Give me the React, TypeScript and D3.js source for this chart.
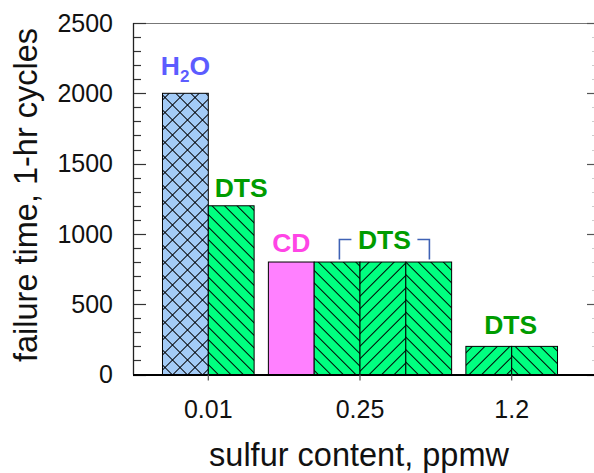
import { useRef, useEffect } from 'react';
import * as d3 from 'd3';

// categories on the x axis (sulfur content, ppmw)
const categories = ['0.01', '0.25', '1.2'];

// every bar: which category it belongs to and its failure time
const barCategories = ['0.01', '0.01', '0.25', '0.25', '0.25', '0.25', '1.2', '1.2'];
const barValues = [2000, 1200, 800, 800, 800, 800, 200, 200];

// y axis ticks
const yMajorTicks = [0, 500, 1000, 1500, 2000, 2500];

// annotation labels and which bars they sit over
const labelTexts = ['H2O', 'DTS', 'CD', 'DTS', 'DTS'];
const labelBars = [[0], [1], [2], [3, 4, 5], [6, 7]];

// ---- styles ----
const barStyles = ['cross', 'back', 'pink', 'back', 'fwd', 'back', 'fwd', 'back'];
const labelColors = ['#5c5cff', '#009c00', '#ff45e6', '#009c00', '#009c00'];
const labelDx = [0, 10, 0, 1.5, -1];
const labelGap = [18, 9, 10, 12.7, 12];
const FONT = '"Liberation Sans", Arial, Helvetica, sans-serif';

export default function App() {
  const svgRef = useRef<SVGSVGElement | null>(null);

  useEffect(() => {
    const width = 594, height = 473;
    const left = 133, right = 600, top = 23, bottom = 374.5;

    d3.select(svgRef.current).selectAll('*').remove();
    const svg = d3.select(svgRef.current)
      .attr('width', width)
      .attr('height', height);

    // patterns
    const defs = svg.append('defs');
    const hatch = (id: string, angle: number, spacing: number, bg: string, cross = false) => {
      const d = spacing / Math.SQRT2;
      const p = defs.append('pattern')
        .attr('id', id)
        .attr('patternUnits', 'userSpaceOnUse')
        .attr('width', d)
        .attr('height', d)
        .attr('patternTransform', `rotate(${angle})`);
      p.append('rect').attr('width', d).attr('height', d).attr('fill', bg);
      p.append('line')
        .attr('x1', d / 2).attr('x2', d / 2).attr('y1', -1).attr('y2', d + 1)
        .attr('stroke', '#000').attr('stroke-width', 1);
      if (cross) {
        p.append('line')
          .attr('y1', d / 2).attr('y2', d / 2).attr('x1', -1).attr('x2', d + 1)
          .attr('stroke', '#000').attr('stroke-width', 1);
      }
    };
    hatch('cross', 45, 15, '#a3cbf7', true);
    hatch('back', -45, 12.5, '#00ff80');
    hatch('fwd', 45, 12.5, '#00ff80');
    const fillOf = (s: string) => s === 'pink' ? '#ff80ff' : `url(#${s})`;

    // scales
    const xScale = d3.scalePoint<string>()
      .domain(categories)
      .range([208.3, 511.7]);
    const barWidth = xScale.step() * 0.302;
    const yScale = d3.scaleLinear()
      .domain([0, 2500])
      .range([bottom, top]);

    // bar geometry
    const groupSize = (c: string) => barCategories.filter(b => b === c).length;
    const barX = (i: number) => {
      const c = barCategories[i];
      const slot = barCategories.slice(0, i).filter(b => b === c).length;
      return (xScale(c) as number) + (slot - groupSize(c) / 2) * barWidth;
    };

    const g = svg.append('g');

    // frame: top + right (gray)
    g.append('line')
      .attr('x1', left).attr('x2', right).attr('y1', top + 0.5).attr('y2', top + 0.5)
      .attr('stroke', '#777').attr('stroke-width', 1.2);
    g.append('line')
      .attr('x1', right - 0.5).attr('x2', right - 0.5).attr('y1', top).attr('y2', bottom)
      .attr('stroke', '#777');

    // minor/major y ticks on both sides
    const minor = yScale.ticks(25);
    minor.forEach(v => {
      const isMajor = yMajorTicks.includes(v);
      const len = isMajor ? 13 : 8;
      const y = Math.round(yScale(v)) + 0.5;
      g.append('line')
        .attr('x1', left).attr('x2', left + len).attr('y1', y).attr('y2', y)
        .attr('stroke', '#333').attr('stroke-width', 1.2);
      g.append('line')
        .attr('x1', right - len).attr('x2', right).attr('y1', y).attr('y2', y)
        .attr('stroke', isMajor ? '#555' : '#ccc').attr('stroke-width', 1.2);
    });

    // bars
    g.selectAll('rect.bar')
      .data(barValues)
      .join('rect')
      .attr('class', 'bar')
      .attr('x', (_, i) => barX(i))
      .attr('y', d => yScale(d))
      .attr('width', barWidth)
      .attr('height', d => yScale(0) - yScale(d))
      .attr('fill', (_, i) => fillOf(barStyles[i]))
      .attr('stroke', '#000')
      .attr('stroke-width', 1);

    // left axis line
    g.append('line')
      .attr('x1', left + 0.5).attr('x2', left + 0.5).attr('y1', top).attr('y2', bottom)
      .attr('stroke', '#222').attr('stroke-width', 1.3);

    // bottom axis line + ticks
    g.append('line')
      .attr('x1', left).attr('x2', right).attr('y1', bottom + 0.5).attr('y2', bottom + 0.5)
      .attr('stroke', '#000').attr('stroke-width', 2);
    categories.forEach(c => {
      const x = xScale(c) as number;
      g.append('line')
        .attr('x1', x).attr('x2', x).attr('y1', bottom).attr('y2', bottom + 6)
        .attr('stroke', '#555').attr('stroke-width', 1.2);
      g.append('text')
        .attr('x', x).attr('y', 418)
        .attr('text-anchor', 'middle')
        .style('font-family', FONT).style('font-size', '25px')
        .attr('fill', '#111')
        .text(c);
    });

    // y tick labels
    yMajorTicks.forEach(v => {
      g.append('text')
        .attr('x', 113).attr('y', yScale(v) + 8.8)
        .attr('text-anchor', 'end')
        .style('font-family', FONT).style('font-size', '25px')
        .attr('fill', '#111')
        .text(v);
    });

    // axis titles
    g.append('text')
      .attr('x', 359).attr('y', 466)
      .attr('text-anchor', 'middle')
      .style('font-family', FONT).style('font-size', '32.5px')
      .attr('fill', '#111')
      .text('sulfur content, ppmw');
    g.append('text')
      .attr('transform', 'translate(37,195) rotate(-90)')
      .attr('text-anchor', 'middle')
      .style('font-family', FONT).style('font-size', '32.5px')
      .attr('fill', '#111')
      .text('failure time, 1-hr cycles');

    // annotations
    labelTexts.forEach((t, k) => {
      const idx = labelBars[k];
      const cx = d3.mean(idx, i => barX(i) + barWidth / 2) as number + labelDx[k];
      const topY = yScale(d3.max(idx, i => barValues[i]) as number);
      const y = topY - labelGap[k];
      const txt = g.append('text')
        .attr('x', cx).attr('y', y)
        .attr('text-anchor', 'middle')
        .style('font-family', FONT).style('font-size', '26.5px')
        .style('font-weight', 'bold')
        .attr('fill', labelColors[k]);
      if (t === 'H2O') {
        txt.append('tspan').text('H');
        txt.append('tspan').attr('dy', 7).style('font-size', '17px').text('2');
        txt.append('tspan').attr('dy', -7).text('O');
      } else {
        txt.text(t);
      }
      if (idx.length === 3) {
        // bracket over the three DTS bars
        const half = 45, arm = 12;
        const yT = topY - 22.5, yB = topY - 2.5;
        g.append('path')
          .attr('d', `M${cx - half},${yB}V${yT}H${cx - half + arm}M${cx + half - arm},${yT}H${cx + half}V${yB}`)
          .attr('fill', 'none')
          .attr('stroke', '#3f62b5')
          .attr('stroke-width', 1.6);
      }
    });
  }, []);

  return <svg ref={svgRef} style={{ position: 'absolute', left: 0, top: 0 }}></svg>;
}
